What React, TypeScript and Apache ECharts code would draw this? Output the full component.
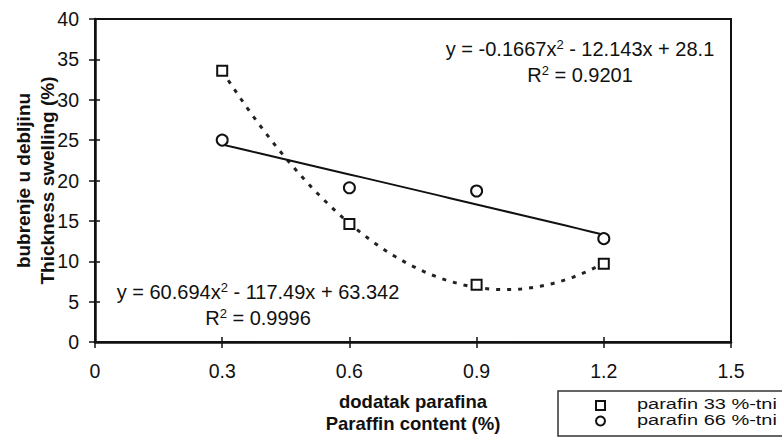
import React, { useEffect, useRef } from "react";
import * as echarts from "echarts";

const paraffinContent = [0.3, 0.6, 0.9, 1.2];
const swelling33 = [33.6, 14.6, 7.1, 9.7];
const swelling66 = [25.0, 19.1, 18.7, 12.8];

// Trendline coefficients printed on the chart (a·x² + b·x + c)
const fit33 = [60.694, -117.49, 63.342];
const fit66 = [-0.1667, -12.143, 28.1];

const seriesNames = ["parafin 33 %-tni", "parafin 66 %-tni"];
const eq33 = ["y = 60.694x{sup|2} - 117.49x + 63.342", "R{sup|2} = 0.9996"];
const eq66 = ["y = -0.1667x{sup|2} - 12.143x + 28.1", "R{sup|2} = 0.9201"];
const xTitle = "dodatak parafina\nParaffin content (%)";
const yTitle = "bubrenje u debljinu\nThickness swelling (%)";

const FONT = "'Liberation Sans', Arial, sans-serif";
const INK = "#111";

function trend(coef: number[], x0: number, x1: number, steps: number) {
  const pts: number[][] = [];
  for (let i = 0; i <= steps; i++) {
    const x = x0 + ((x1 - x0) * i) / steps;
    pts.push([x, coef[0] * x * x + coef[1] * x + coef[2]]);
  }
  return pts;
}

function eqText(lines: string[], x: number, y: number) {
  const rich = {
    sup: { fontSize: 13, fontFamily: FONT, verticalAlign: "top", lineHeight: 12, fill: INK },
  };
  return lines.map((t, i) => ({
    type: "text",
    x,
    y: y + i * 26,
    style: {
      text: t,
      fontSize: 20,
      fontFamily: FONT,
      fill: INK,
      align: "center",
      verticalAlign: "middle",
      lineHeight: 22,
      rich,
    },
    z: 10,
  }));
}

function legendGraphic() {
  const x0 = 558;
  const y0 = 391;
  const textStyle = {
    fontSize: 20,
    fontFamily: FONT,
    fill: INK,
    verticalAlign: "middle",
    lineHeight: 20,
  };
  return [
    {
      type: "rect",
      shape: { x: x0, y: y0, width: 240, height: 45 },
      style: { fill: "#fff", stroke: "#333", lineWidth: 1.5 },
      z: 20,
    },
    {
      type: "rect",
      shape: { x: 596, y: 401, width: 9, height: 9 },
      style: { fill: "#fff", stroke: INK, lineWidth: 2 },
      z: 21,
    },
    {
      type: "circle",
      shape: { cx: 600.5, cy: 421, r: 4.5 },
      style: { fill: "#fff", stroke: INK, lineWidth: 2 },
      z: 21,
    },
    {
      type: "text",
      x: 637,
      y: 404,
      scaleY: 0.75,
      style: { ...textStyle, text: seriesNames[0] },
      z: 21,
    },
    {
      type: "text",
      x: 637,
      y: 420,
      scaleY: 0.75,
      style: { ...textStyle, text: seriesNames[1] },
      z: 21,
    },
  ];
}

export default function App() {
  const ref = useRef<HTMLDivElement>(null);
  useEffect(() => {
    const chart = echarts.init(ref.current!, null, { renderer: "svg" });
    const xs = paraffinContent;
    const axisLabel = { fontSize: 19.5, fontFamily: FONT, color: INK };
    const frameX = {
      type: "value",
      min: 0,
      max: 1.5,
      interval: 0.3,
      splitLine: { show: false },
      axisLabel: { show: false },
    };
    const frameY = {
      type: "value",
      min: 0,
      max: 40,
      interval: 5,
      splitLine: { show: false },
      axisLabel: { show: false },
    };
    chart.setOption({
      animation: false,
      backgroundColor: "#fff",
      grid: {
        left: 95,
        top: 19,
        right: 51,
        bottom: 97,
        show: true,
        borderColor: INK,
        borderWidth: 2,
        outerBoundsMode: "none",
        containLabel: false,
      },
      xAxis: [
        {
          ...frameX,
          axisLine: { show: true, lineStyle: { color: INK, width: 2.5 } },
          axisTick: { show: true, length: 6, lineStyle: { color: INK, width: 1.5 } },
          axisLabel: {
            ...axisLabel,
            show: true,
            margin: 19,
            formatter: (v: number) => String(+v.toFixed(1)),
          },
          name: xTitle,
          nameLocation: "middle",
          nameGap: 48,
          nameMoveOverlap: false,
          nameTextStyle: {
            fontSize: 18.5,
            fontWeight: "bold",
            fontFamily: FONT,
            color: INK,
            lineHeight: 22,
          },
        },
        {
          ...frameX,
          position: "bottom",
          axisLine: { show: false },
          axisTick: { show: true, inside: true, length: 5, lineStyle: { color: INK, width: 1.5 } },
        },
        {
          ...frameX,
          position: "top",
          axisLine: { show: true, lineStyle: { color: INK, width: 2 } },
          axisTick: { show: false },
        },
      ],
      yAxis: [
        {
          ...frameY,
          axisLine: { show: true, lineStyle: { color: INK, width: 2.5 } },
          axisTick: { show: true, length: 6, lineStyle: { color: INK, width: 1.5 } },
          axisLabel: { ...axisLabel, show: true, margin: 16 },
          name: yTitle,
          nameLocation: "middle",
          nameGap: 36,
          nameMoveOverlap: false,
          nameRotate: 90,
          nameTextStyle: {
            fontSize: 19,
            fontWeight: "bold",
            fontFamily: FONT,
            color: INK,
            lineHeight: 24,
          },
        },
        {
          ...frameY,
          position: "left",
          axisLine: { show: false },
          axisTick: { show: true, inside: true, length: 5, lineStyle: { color: INK, width: 1.5 } },
        },
        {
          ...frameY,
          position: "right",
          axisLine: { show: true, lineStyle: { color: INK, width: 2 } },
          axisTick: { show: false },
        },
      ],
      graphic: [...eqText(eq66, 580, 49), ...eqText(eq33, 258, 292), ...legendGraphic()],
      series: [
        {
          type: "line",
          data: trend(fit33, xs[0], xs[3], 60),
          showSymbol: false,
          symbol: "none",
          lineStyle: { color: "#222", width: 3, type: [4, 7] },
          z: 2,
          silent: true,
        },
        {
          type: "line",
          data: trend(fit66, xs[0], xs[3], 30),
          showSymbol: false,
          symbol: "none",
          lineStyle: { color: INK, width: 2 },
          z: 2,
          silent: true,
        },
        {
          name: seriesNames[0],
          type: "scatter",
          data: xs.map((x, i) => [x, swelling33[i]]),
          symbol: "rect",
          symbolSize: 10,
          itemStyle: { color: "#fff", borderColor: INK, borderWidth: 2, opacity: 1 },
          z: 5,
        },
        {
          name: seriesNames[1],
          type: "scatter",
          data: xs.map((x, i) => [x, swelling66[i]]),
          symbol: "circle",
          symbolSize: 11,
          itemStyle: { color: "#fff", borderColor: INK, borderWidth: 2, opacity: 1 },
          z: 5,
        },
      ],
    });
    return () => chart.dispose();
  }, []);
  return (
    <div
      ref={ref}
      style={{ position: "fixed", left: 0, top: 0, width: 782, height: 439, background: "#fff" }}
    />
  );
}
